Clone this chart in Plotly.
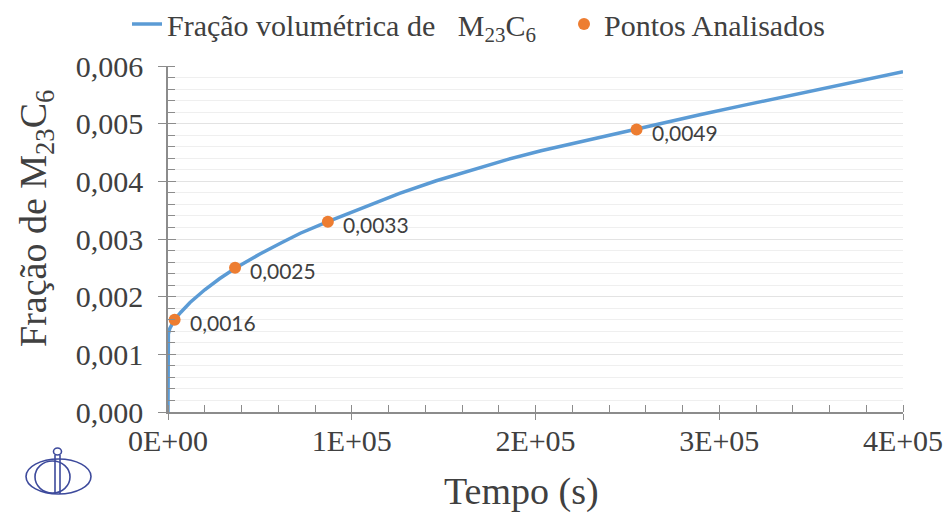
import plotly.graph_objects as go

# Simulated precipitation kinetics: time (s) vs. volume fraction of M23C6
tempo_s = [0, 0, 200, 1000, 2000, 3600, 7000, 12000, 20000, 28000, 37000,
           50000, 62000, 72000, 87000, 105000, 126000, 146000, 167000, 185000,
           203000, 230000, 255000, 273000, 290000, 315000, 344000, 372000, 400000]
fracao = [0.0, 0.00120, 0.00135, 0.00145, 0.00152, 0.00160, 0.00173, 0.00190,
          0.00212, 0.00231, 0.00250, 0.00274, 0.00294, 0.00310, 0.00330,
          0.00353, 0.00379, 0.00401, 0.00421, 0.00438, 0.00453, 0.00473,
          0.00491, 0.00504, 0.00516, 0.00533, 0.00552, 0.00571, 0.00590]

# Analysed points
pontos_t = [3600, 36500, 87000, 255000]
pontos_f = [0.0016, 0.0025, 0.0033, 0.0049]
pontos_txt = ["0,0016", "0,0025", "0,0033", "0,0049"]

# Axis ticks
x_ticks = [0, 100000, 200000, 300000, 400000]
x_ticktext = ["0E+00", "1E+05", "2E+05", "3E+05", "4E+05"]
y_ticks = [0.000, 0.001, 0.002, 0.003, 0.004, 0.005, 0.006]
y_ticktext = ["0,000", "0,001", "0,002", "0,003", "0,004", "0,005", "0,006"]

W, H = 945, 515
ML, MR, MT, MB = 168, 42, 66, 103

SERIF = "Liberation Serif, Times New Roman, serif"
SANS = "Lato, Open Sans, sans-serif"
TXT = "#404040"
AX = "#8c8c8c"
BLUE = "#5b9bd5"
ORANGE = "#ed7d31"


def px(x):
    """pixel column -> paper x"""
    return (x - ML) / (W - ML - MR)


def py(y):
    """pixel row -> paper y"""
    return (H - MB - y) / (H - MT - MB)


fig = go.Figure()

fig.add_trace(go.Scatter(
    x=tempo_s, y=fracao, mode="lines",
    line=dict(color=BLUE, width=3.5),
    name="Fração volumétrica de   M<sub>23</sub>C<sub>6</sub>",
    legend="legend",
))

fig.add_trace(go.Scatter(
    x=pontos_t, y=pontos_f, mode="markers",
    marker=dict(color=ORANGE, size=12),
    name="Pontos Analisados",
    legend="legend2",
))

# value labels beside each analysed point
for t, f, s in zip(pontos_t, pontos_f, pontos_txt):
    fig.add_annotation(
        x=t, y=f, text=s, showarrow=False,
        xanchor="left", yanchor="middle", xshift=13, yshift=-3,
        font=dict(family=SANS, size=21, color=TXT),
    )

# companion axes carrying the inner half of the major ticks
fig.add_trace(go.Scatter(x=[None], y=[None], xaxis="x2", yaxis="y2",
                         showlegend=False, hoverinfo="skip"))

x_range = [0, 400000]
y_range = [0, 0.006]

legend_common = dict(
    orientation="h", yanchor="middle",
    font=dict(family=SERIF, size=30, color=TXT),
    bgcolor="rgba(0,0,0,0)", itemclick=False, itemdoubleclick=False,
)

fig.update_layout(
    width=W, height=H,
    margin=dict(l=ML, r=MR, t=MT, b=MB, autoexpand=False),
    paper_bgcolor="white", plot_bgcolor="white",
    showlegend=True,
    legend=dict(legend_common, x=px(127), xanchor="left", y=py(24)),
    legend2=dict(legend_common, x=px(564), xanchor="left", y=py(24)),
    xaxis=dict(
        range=x_range, tickvals=x_ticks, ticktext=x_ticktext,
        ticks="outside", ticklen=6, tickcolor=AX, tickwidth=1.3,
        showline=True, linecolor=AX, linewidth=1.5,
        showgrid=False, zeroline=False, automargin=False,
        tickfont=dict(family=SERIF, size=30, color=TXT),
        ticklabelstandoff=-5,
        minor=dict(dtick=20000, ticks="inside", ticklen=7,
                   tickcolor=AX, tickwidth=1.3, showgrid=False),
    ),
    yaxis=dict(
        range=y_range, tickvals=y_ticks, ticktext=y_ticktext,
        ticks="outside", ticklen=8, tickcolor=AX, tickwidth=1.3,
        showline=True, linecolor=AX, linewidth=1.5,
        showgrid=True, gridcolor="#e3e3e3", gridwidth=1, zeroline=False,
        automargin=False,
        tickfont=dict(family=SERIF, size=30, color=TXT),
        ticklabelstandoff=9,
        minor=dict(dtick=0.0002, ticks="inside", ticklen=7,
                   tickcolor=AX, tickwidth=1.3,
                   showgrid=True, gridcolor="#efefef", gridwidth=1),
    ),
    xaxis2=dict(
        overlaying="x", anchor="y2", range=x_range, tickvals=x_ticks,
        ticks="inside", ticklen=7, tickcolor=AX, tickwidth=1.3,
        showticklabels=False, showline=False, showgrid=False, zeroline=False,
    ),
    yaxis2=dict(
        overlaying="y", anchor="x2", range=y_range, tickvals=y_ticks,
        ticks="inside", ticklen=8, tickcolor=AX, tickwidth=1.3,
        showticklabels=False, showline=False, showgrid=False, zeroline=False,
    ),
)

# axis titles
fig.add_annotation(
    xref="paper", yref="paper", x=px(521), y=py(492),
    text="Tempo (s)", showarrow=False, xanchor="center", yanchor="middle",
    font=dict(family=SERIF, size=38, color=TXT),
)
fig.add_annotation(
    xref="paper", yref="paper", x=px(36), y=py(219),
    text="Fração de M<sub>23</sub>C<sub>6</sub>", textangle=-90,
    showarrow=False, xanchor="center", yanchor="middle",
    font=dict(family=SERIF, size=38, color=TXT),
)

# Institutional emblem in the lower-left corner
LOGO = dict(color="#3d4a9c", width=1.6)
shapes = [
    dict(type="circle", xref="paper", yref="paper",
         x0=px(26), x1=px(91), y0=py(494), y1=py(459), line=LOGO),
    dict(type="circle", xref="paper", yref="paper",
         x0=px(35), x1=px(70), y0=py(493), y1=py(461), line=LOGO),
    dict(type="line", xref="paper", yref="paper",
         x0=px(55), x1=px(55), y0=py(494), y1=py(455), line=LOGO),
    dict(type="line", xref="paper", yref="paper",
         x0=px(60), x1=px(60), y0=py(494), y1=py(455), line=LOGO),
    dict(type="circle", xref="paper", yref="paper",
         x0=px(53.5), x1=px(61.5), y0=py(455), y1=py(448), line=LOGO),
]
fig.update_layout(shapes=shapes)

fig.write_html("out.html")
